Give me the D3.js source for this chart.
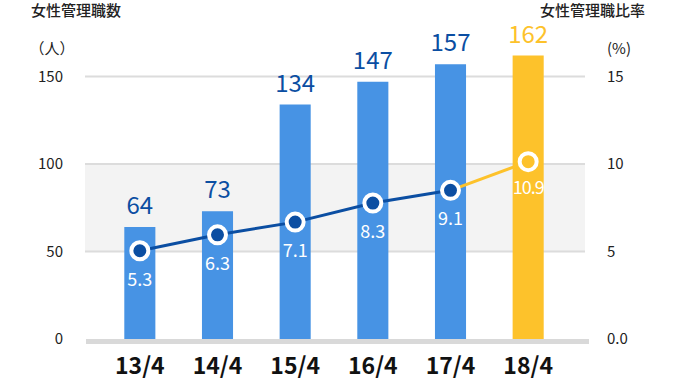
<!DOCTYPE html>
<html>
<head>
<meta charset="utf-8">
<script src="https://cdn.jsdelivr.net/npm/d3@7"></script>
<style>
  body { margin: 0; background: #fff; }
  svg text { font-family: "Noto Sans CJK JP", "Noto Sans", sans-serif; }
</style>
</head>
<body>
<div id="chart"></div>
<script>
  const categories = ['13/4', '14/4', '15/4', '16/4', '17/4', '18/4'];
  const managers = [64, 73, 134, 147, 157, 162];
  const ratio = [5.3, 6.3, 7.1, 8.3, 9.1, 10.9];
  const leftTicks = [0, 50, 100, 150];
  const rightTicks = [0, 5, 10, 15];

  const width = 674, height = 380;
  const blue = '#4793e4', navy = '#0b4ea2', yellow = '#fdc22b';

  let svg = d3.select('#chart')
    .append('svg')
    .attr('width', width)
    .attr('height', height);

  let x = d3.scaleBand()
    .domain(categories)
    .range([101, 567])
    .paddingInner(0.6)
    .paddingOuter(0.3);

  let y = d3.scaleLinear().domain([0, 150]).range([339, 76.5]);
  // the rate line sits on its own scale in the original
  let yRate = d3.scaleLinear().domain([0, 15]).range([335, 96.5]);
  let yRight = d3.scaleLinear().domain([0, 15]).range([339, 76.5]);

  // grey band between 50 and 100
  svg.append('rect')
    .attr('x', 85).attr('width', 500)
    .attr('y', y(100)).attr('height', y(50) - y(100))
    .attr('fill', '#f3f3f3');

  svg.selectAll('.grid')
    .data(leftTicks.slice(1))
    .enter()
    .append('line')
    .attr('x1', 85).attr('x2', 585)
    .attr('y1', d => y(d)).attr('y2', d => y(d))
    .attr('stroke', '#dcdcdc')
    .attr('stroke-width', 2);

  // bars
  svg.selectAll('.bar')
    .data(managers)
    .enter()
    .append('rect')
    .attr('x', (d, i) => x(categories[i]))
    .attr('width', x.bandwidth())
    .attr('y', d => y(d))
    .attr('height', d => y(0) - y(d))
    .attr('fill', (d, i) => i === managers.length - 1 ? yellow : blue);

  // baseline
  svg.append('rect')
    .attr('x', 86).attr('width', 503)
    .attr('y', y(0)).attr('height', 5)
    .attr('fill', '#d9d9d9');

  svg.selectAll('.barLabel')
    .data(managers)
    .enter()
    .append('text')
    .attr('x', (d, i) => x(categories[i]) + x.bandwidth() / 2)
    .attr('y', d => y(d) - 13)
    .attr('text-anchor', 'middle')
    .style('font-size', '24px')
    .style('fill', (d, i) => i === managers.length - 1 ? yellow : navy)
    .text(d => d);

  // rate line
  let cx = i => x(categories[i]) + x.bandwidth() / 2;
  let n = ratio.length;
  let line = d3.line().x(d => cx(d.i)).y(d => yRate(d.v));
  let pts = ratio.map((v, i) => ({ v: v, i: i }));

  svg.append('path')
    .attr('d', line(pts.slice(0, n - 1)))
    .attr('fill', 'none')
    .attr('stroke', navy)
    .attr('stroke-width', 3);

  svg.append('path')
    .attr('d', line(pts.slice(n - 2)))
    .attr('fill', 'none')
    .attr('stroke', yellow)
    .attr('stroke-width', 3);

  svg.selectAll('.dot')
    .data(pts)
    .enter()
    .append('circle')
    .attr('cx', d => cx(d.i))
    .attr('cy', d => yRate(d.v))
    .attr('r', 8.5)
    .attr('fill', d => d.i === n - 1 ? yellow : navy)
    .attr('stroke', '#fff')
    .attr('stroke-width', 4);

  svg.selectAll('.dotLabel')
    .data(pts)
    .enter()
    .append('text')
    .attr('x', d => cx(d.i))
    .attr('y', d => yRate(d.v) + (d.i === n - 1 ? 32 : 35))
    .attr('text-anchor', 'middle')
    .style('font-size', '18px')
    .style('letter-spacing', d => d.i === n - 1 ? '-1px' : '0')
    .style('fill', '#fff')
    .text(d => d.v.toFixed(1));

  // axes labels
  svg.selectAll('.leftTick')
    .data(leftTicks)
    .enter()
    .append('text')
    .attr('x', 63)
    .attr('y', d => y(d) + 5)
    .attr('text-anchor', 'end')
    .style('font-size', '15px')
    .style('fill', '#222')
    .text(d => d);

  svg.selectAll('.rightTick')
    .data(rightTicks)
    .enter()
    .append('text')
    .attr('x', 607)
    .attr('y', d => yRight(d) + 5)
    .style('font-size', '15px')
    .style('fill', '#222')
    .text(d => d === 0 ? '0.0' : d);

  svg.selectAll('.xLabel')
    .data(categories)
    .enter()
    .append('text')
    .attr('x', d => x(d) + x.bandwidth() / 2)
    .attr('y', 374)
    .attr('text-anchor', 'middle')
    .style('font-size', '23px')
    .style('font-weight', 'bold')
    .style('fill', '#111')
    .text(d => d);

  svg.append('text')
    .attr('x', 31).attr('y', 16)
    .style('font-size', '15px')
    .style('font-weight', 500)
    .style('fill', '#222')
    .text('女性管理職数');

  svg.append('text')
    .attr('x', 645).attr('y', 16)
    .attr('text-anchor', 'end')
    .style('font-size', '15px')
    .style('font-weight', 500)
    .style('fill', '#222')
    .text('女性管理職比率');

  svg.append('text')
    .attr('x', 52).attr('y', 54)
    .attr('text-anchor', 'middle')
    .style('font-size', '15px')
    .style('fill', '#222')
    .text('（人）');

  svg.append('text')
    .attr('x', 607).attr('y', 54)
    .style('font-size', '15px')
    .style('fill', '#222')
    .text('(%)');
</script>
</body>
</html>
